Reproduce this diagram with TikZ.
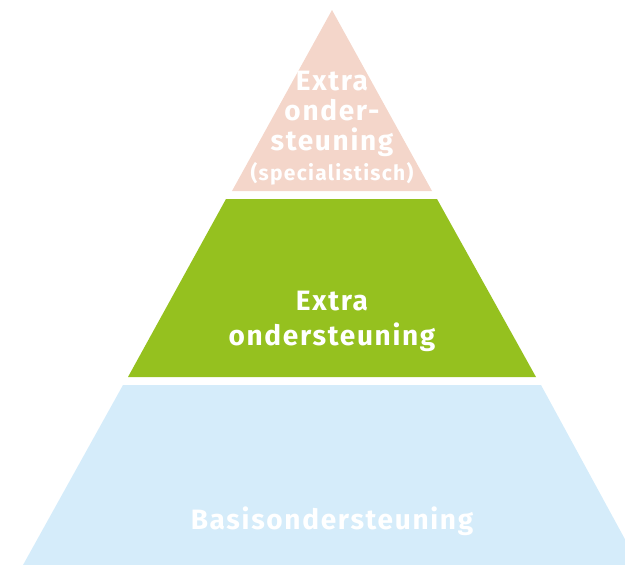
\documentclass[tikz,border=0pt]{standalone}
\usepackage{fontspec}
\setmainfont{Fira Sans}
\newfontfamily\tierfont[LetterSpace=6]{Fira Sans}
\definecolor{tierpink}{HTML}{F4D6CA}
\definecolor{tiergreen}{HTML}{95C11F}
\definecolor{tierblue}{HTML}{D5ECFA}
\begin{document}
\begin{tikzpicture}[x=1pt,y=-1pt,
    tiertext/.style={text=white,align=center,font=\tierfont\bfseries\fontsize{28}{30}\selectfont}]
    \useasboundingbox (0,0) rectangle (625,565);
    \clip (0,0) rectangle (625,565);
    \fill[tierpink] (332,10) -- (432,191) -- (232,191) -- cycle;
    \fill[tiergreen] (226,199) -- (437,199) -- (536,377) -- (128,377) -- cycle;
    \fill[tierblue] (123,385) -- (541,385) -- (639,565) -- (23,565) -- cycle;
    \node[tiertext] (special) at (332,128) {Extra\\onder-\\steuning\\{\fontsize{21}{31}\selectfont(specialistisch)}};
    \node[tiertext,font=\tierfont\bfseries\fontsize{28}{35}\selectfont] (extra) at (332,321) {Extra\\ondersteuning};
    \node[tiertext,anchor=base] (basis) at (332,529) {Basisondersteuning};
\end{tikzpicture}
\end{document}
